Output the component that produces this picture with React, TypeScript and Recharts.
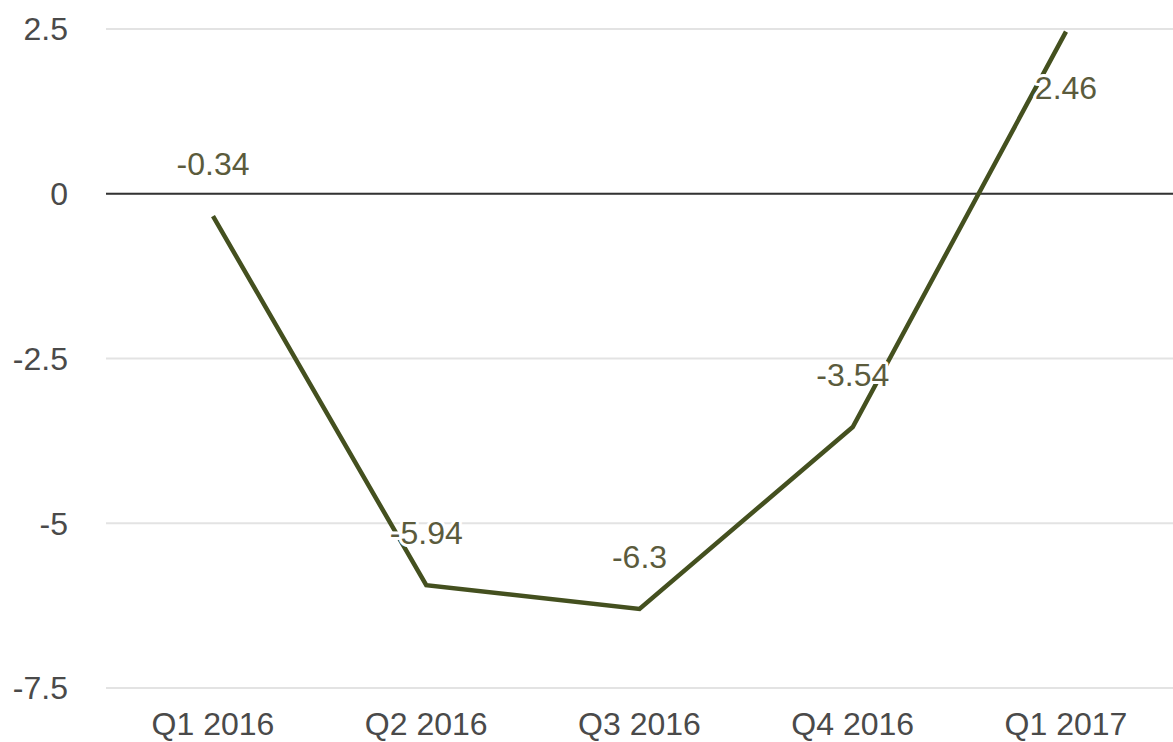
import React from "react";
import { LineChart, Line, XAxis, YAxis, CartesianGrid, ReferenceLine, LabelList } from "recharts";

const categories = ["Q1 2016", "Q2 2016", "Q3 2016", "Q4 2016", "Q1 2017"];
const values = [-0.34, -5.94, -6.3, -3.54, 2.46];
const yTicks = [-7.5, -5, -2.5, 0, 2.5];

const data = categories.map((q, i) => ({ q, v: values[i] }));

const FONT = "'Liberation Sans', Arial, sans-serif";
const LINE_COLOR = "#44501f";
const LABEL_COLOR = "#5b5b3c";
const PLOT_TOP = 29;

const renderLabel = (props: any) => {
  const { x, y, value } = props;
  const below = y - 52 < PLOT_TOP + 10;
  const ty = below ? y + 56 : y - 52;
  return (
    <text
      x={x}
      y={ty}
      textAnchor="middle"
      dominantBaseline="central"
      fontFamily={FONT}
      fontSize={32}
      fill={LABEL_COLOR}
      stroke="#ffffff"
      strokeWidth={6}
      strokeLinejoin="round"
      style={{ paintOrder: "stroke" }}
    >
      {value}
    </text>
  );
};

export default function App() {
  return (
    <div style={{ position: "absolute", left: 0, top: 0, background: "#fff" }}>
      <LineChart
        width={1173}
        height={742}
        data={data}
        margin={{ top: PLOT_TOP, right: 0, bottom: 0, left: 0 }}
      >
        <CartesianGrid horizontal vertical={false} stroke="#e3e3e3" strokeWidth={2} />
        <XAxis
          dataKey="q"
          axisLine={false}
          tickLine={false}
          height={54}
          tickSize={0}
          tickMargin={24}
          padding={{ left: 107, right: 107 }}
          tick={{ fontFamily: FONT, fontSize: 32, fill: "#4a4a4a" }}
          interval={0}
        />
        <YAxis
          type="number"
          domain={[-7.5, 2.5]}
          ticks={yTicks}
          axisLine={false}
          tickLine={false}
          width={106}
          tickSize={0}
          tickMargin={38}
          tick={{ fontFamily: FONT, fontSize: 32, fill: "#4a4a4a" }}
        />
        <ReferenceLine y={0} stroke="#333333" strokeWidth={2} />
        <Line
          type="linear"
          dataKey="v"
          stroke={LINE_COLOR}
          strokeWidth={4.5}
          dot={false}
          activeDot={false}
          isAnimationActive={false}
        >
          <LabelList dataKey="v" content={renderLabel} />
        </Line>
      </LineChart>
    </div>
  );
}
